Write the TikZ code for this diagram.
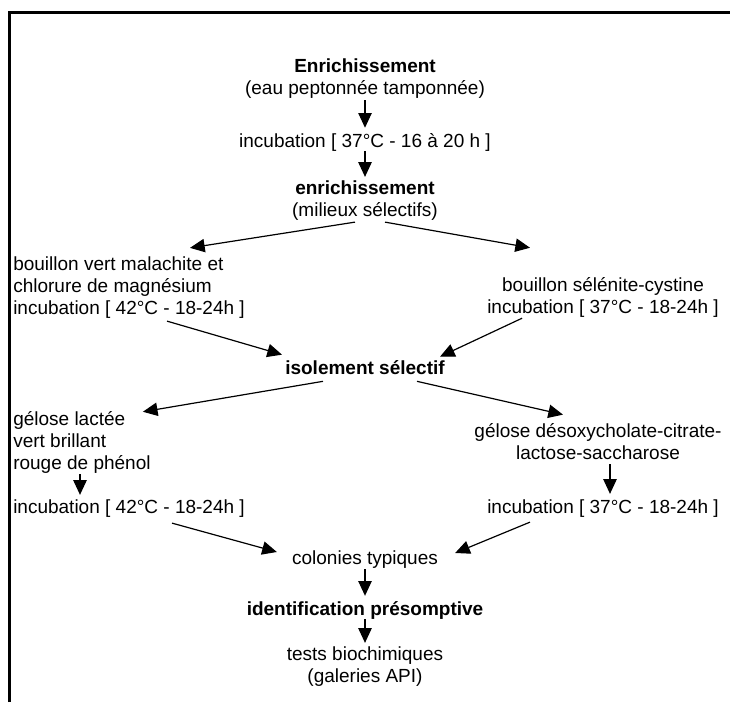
\documentclass[tikz,border=0pt]{standalone}
\usepackage{fontspec}
\setmainfont{Liberation Sans}
\usetikzlibrary{arrows.meta}
\begin{document}
\begin{tikzpicture}[x=0.75pt, y=-0.75pt, font=\fontsize{14.25}{16.5}\selectfont]
    \tikzstyle{txt} = [inner sep=0pt, align=center]
    \tikzstyle{ltxt} = [inner sep=0pt, align=left, anchor=west]
    \tikzstyle{line} = [draw, line width=0.9pt, -{Triangle[length=11pt, width=10pt]}]

    \useasboundingbox (0,0) rectangle (730,702);
    % cadre
    \draw [line width=2.25pt] (9,702) -- (9,13) -- (730,13);

    \node [txt] (enrich) at (365,79) {\textbf{Enrichissement}\\(eau peptonnée tamponnée)};
    \node [txt] (inc1) at (365,142) {incubation [ 37°C - 16 à 20 h ]};
    \node [txt] (enrich2) at (365,201) {\textbf{enrichissement}\\(milieux sélectifs)};
    \node [ltxt] (bvm) at (13,288) {bouillon vert malachite et\\chlorure de magnésium\\incubation [ 42°C - 18-24h ]};
    \node [txt] (bsc) at (603,297) {bouillon sélénite-cystine\\incubation [ 37°C - 18-24h ]};
    \node [txt] (isol) at (365,368) {\textbf{isolement sélectif}};
    \node [ltxt] (glv) at (13,442) {gélose lactée\\vert brillant\\rouge de phénol};
    \node [ltxt] (inc42) at (13,509) {incubation [ 42°C - 18-24h ]};
    \node [txt] (gdc) at (598,442) {gélose désoxycholate-citrate-\\lactose-saccharose};
    \node [txt] (inc37) at (603,509) {incubation [ 37°C - 18-24h ]};
    \node [txt] (colon) at (365,560) {colonies typiques};
    \node [txt] (ident) at (365,610) {\textbf{identification présomptive}};
    \node [txt] (tests) at (365,667) {tests biochimiques\\(galeries API)};

    \draw [line] ([shift={(0,1)}]enrich.south) -- ([shift={(0,-5)}]inc1.north);
    \draw [line] (inc1.south) -- ([shift={(0,-4)}]enrich2.north);
    \draw [line] ([shift={(-10,1)}]enrich2.south) -- ([shift={(61,-9)}]bvm.north);
    \draw [line] ([shift={(20,1)}]enrich2.south) -- ([shift={(-73,-29)}]bsc.north);
    \draw [line] ([shift={(38,2)}]bvm.south) -- ([shift={(-3,-6)}]isol.north west);
    \draw [line] ([shift={(-81,1)}]bsc.south) -- ([shift={(-5,-4)}]isol.north east);
    \draw [line] ([shift={(38,6)}]isol.south west) -- ([shift={(-8,1)}]glv.north east);
    \draw [line] ([shift={(-28,6)}]isol.south east) -- ([shift={(-35,-9)}]gdc.north);
    \draw [line] ([shift={(67,1)}]glv.south west) -- ([shift={(67,-5)}]inc42.north west);
    \draw [line] ([shift={(12,4)}]gdc.south) -- ([shift={(7,-6)}]inc37.north);
    \draw [line] ([shift={(43,5)}]inc42.south) -- ([shift={(-15,-8)}]colon.west);
    \draw [line] ([shift={(-73,4)}]inc37.south) -- ([shift={(17,-7)}]colon.east);
    \draw [line] (colon.south) -- ([shift={(0,-5)}]ident.north);
    \draw [line] (ident.south) -- ([shift={(0,-4)}]tests.north);
\end{tikzpicture}
\end{document}
